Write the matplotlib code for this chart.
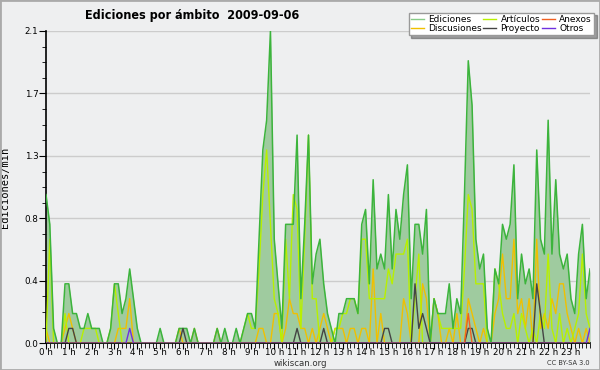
import matplotlib
matplotlib.use("Agg")
import matplotlib.pyplot as plt
from matplotlib.ticker import FixedLocator, MultipleLocator
from matplotlib.lines import Line2D
from matplotlib.patches import Rectangle

# ---- data: edits per minute, 10-minute slots (0h00 .. 23h50) ----
ediciones = [
    1.0, 0.8, 0.1, 0, 0, 0.4, 0.4, 0.2, 0.2, 0.1,
    0.1, 0.2, 0.1, 0.1, 0.1, 0, 0, 0.1, 0.4, 0.4,
    0.2, 0.3, 0.5, 0.3, 0.1, 0, 0, 0, 0, 0,
    0.1, 0, 0, 0, 0, 0.1, 0.1, 0.1, 0, 0.1,
    0, 0, 0, 0, 0, 0.1, 0, 0.1, 0, 0,
    0.1, 0, 0.1, 0.2, 0.2, 0.1, 0.7, 1.3, 1.5, 2.1,
    0.7, 0.4, 0.1, 0.8, 0.8, 0.8, 1.4, 0.3, 0.8, 1.4,
    0.4, 0.6, 0.7, 0.4, 0.2, 0.1, 0, 0.2, 0.2, 0.3,
    0.3, 0.3, 0.2, 0.8, 0.9, 0.4, 1.1, 0.5, 0.6, 0.5,
    1.0, 0.5, 0.9, 0.7, 1.0, 1.2, 0.3, 0.8, 0.8, 0.6,
    0.9, 0, 0.3, 0.2, 0.2, 0.2, 0.4, 0.1, 0.3, 0.2,
    1.0, 1.9, 1.6, 0.7, 0.5, 0.6, 0.1, 0, 0.5, 0.4,
    0.8, 0.7, 0.8, 1.2, 0.3, 0.6, 0.4, 0.5, 0.3, 1.3,
    0.7, 0.6, 1.5, 0.6, 1.1, 0.6, 0.5, 0.6, 0.3, 0.2,
    0.6, 0.8, 0.3, 0.5,
]
articulos = [
    0, 0.7, 0, 0, 0, 0.2, 0, 0, 0, 0,
    0.1, 0.1, 0.1, 0.1, 0, 0, 0, 0.1, 0.4, 0.2,
    0, 0, 0, 0, 0, 0, 0, 0, 0, 0,
    0, 0, 0, 0, 0, 0, 0, 0, 0, 0,
    0, 0, 0, 0, 0, 0, 0, 0, 0, 0,
    0, 0, 0.1, 0.2, 0.1, 0.1, 0.5, 1.0, 1.3, 0.8,
    0.3, 0.2, 0, 0.7, 0.3, 1.0, 0.9, 0.1, 0.7, 1.4,
    0.3, 0.3, 0, 0, 0, 0, 0.1, 0.1, 0.2, 0.2,
    0.3, 0.3, 0.2, 0.7, 0.7, 0.3, 0.3, 0.3, 0.3, 0.3,
    0.5, 0.4, 0.6, 0.6, 0.6, 0.7, 0, 0.3, 0.6, 0,
    0, 0, 0.3, 0.2, 0.1, 0.1, 0.1, 0.1, 0.1, 0.1,
    0.5, 1.0, 0.9, 0.4, 0.4, 0.4, 0, 0, 0.5, 0.4,
    0.2, 0.1, 0.1, 0.2, 0, 0.2, 0.1, 0, 0.1, 0,
    0.2, 0.1, 0.6, 0.1, 0, 0.2, 0, 0.1, 0, 0.1,
    0.2, 0.6, 0.2, 0.1,
]
discusiones = [
    0.1, 0, 0, 0, 0, 0.1, 0.2, 0.1, 0, 0,
    0, 0, 0, 0, 0, 0, 0, 0, 0, 0.1,
    0.1, 0.1, 0.3, 0, 0, 0, 0, 0, 0, 0,
    0, 0, 0, 0, 0, 0.1, 0, 0, 0, 0.1,
    0, 0, 0, 0, 0, 0.1, 0, 0, 0, 0,
    0, 0, 0, 0, 0, 0, 0.1, 0.1, 0, 0,
    0.2, 0.2, 0, 0.1, 0.3, 0.2, 0.2, 0.1, 0.1, 0,
    0.1, 0, 0.1, 0.2, 0.1, 0, 0.1, 0.1, 0.1, 0,
    0.1, 0.1, 0, 0.1, 0.1, 0, 0.5, 0, 0.2, 0,
    0, 0, 0, 0, 0.3, 0.2, 0, 0, 0, 0.4,
    0.3, 0, 0.3, 0.2, 0, 0, 0.1, 0, 0.2, 0,
    0, 0.3, 0.2, 0.1, 0, 0.1, 0, 0, 0.2, 0.3,
    0.6, 0.3, 0.3, 0.7, 0.2, 0.3, 0.1, 0.3, 0, 0.7,
    0.1, 0.2, 0.1, 0.3, 0.2, 0.4, 0.4, 0.2, 0.1, 0,
    0.1, 0, 0.1, 0,
]
proyecto = [0.0] * 144
for i, v in [(6, 0.1), (7, 0.1), (36, 0.1), (66, 0.1), (73, 0.1), (89, 0.1),
             (90, 0.1), (97, 0.4), (98, 0.1), (99, 0.2), (100, 0.1),
             (111, 0.1), (112, 0.1), (129, 0.4), (130, 0.2)]:
    proyecto[i] = v
anexos = [0.0] * 144
anexos[111] = 0.2
otros = [0.0] * 144
otros[22] = 0.1
otros[143] = 0.1

hour_labels = [f"{h} h" for h in range(24)]
y_ticks = [0.0, 0.42, 0.84, 1.26, 1.68, 2.1]
y_labels = ["0.0", "0.4", "0.8", "1.3", "1.7", "2.1"]

# ---- figure ----
BG = "#eeeff0"
fig = plt.figure(figsize=(6.0, 3.7), dpi=100, facecolor=BG)
ax = fig.add_axes([46 / 600, 26.7 / 370, 544 / 600, 312.3 / 370])
ax.set_facecolor(BG)

x = list(range(len(ediciones)))
ax.fill_between(x, ediciones, 0, color="#9fcb9f", lw=0, zorder=1)
ax.plot(x, ediciones, color="#3cb43c", lw=1.1, zorder=5)
ax.plot(x, articulos, color="#b8f000", lw=1.0, zorder=4)
ax.plot(x, discusiones, color="#f0c000", lw=1.0, zorder=3)
ax.plot(x, proyecto, color="#444444", lw=1.0, zorder=6)
ax.plot(x, anexos, color="#f06020", lw=1.0, zorder=6)
ax.plot(x, otros, color="#7030e0", lw=1.0, zorder=6)

ax.set_xlim(0, 143)
ax.set_ylim(0, 2.1)
ax.set_xticks([6 * h for h in range(24)])
ax.set_xticklabels(hour_labels)
ax.xaxis.set_minor_locator(MultipleLocator(1))
ax.yaxis.set_major_locator(FixedLocator(y_ticks))
ax.set_yticklabels(y_labels)
ax.yaxis.set_minor_locator(MultipleLocator(0.105))
ax.grid(axis="y", which="major", color="#cccccc", lw=1)
ax.set_axisbelow(True)
for s in ("top", "right"):
    ax.spines[s].set_visible(False)
for s in ("left", "bottom"):
    ax.spines[s].set_color("black")
    ax.spines[s].set_linewidth(1.2)
ax.tick_params(axis="both", which="both", direction="out", color="black",
               labelsize=6.3, pad=0.5)
ax.tick_params(axis="x", which="major", length=4, pad=-0.5)
ax.tick_params(axis="x", which="minor", length=3.5)
ax.tick_params(axis="y", which="major", length=5)
ax.tick_params(axis="y", which="minor", length=3)

ax.set_ylabel("Ediciones/min", family="DejaVu Sans Mono", fontsize=7.5)
ax.yaxis.set_label_coords((10 - 46) / 544, 0.5)
fig.text(85 / 600, 1 - 16 / 370, "Ediciones por ámbito  2009-09-06",
         fontsize=9, fontweight="bold", fontstretch="condensed",
         va="center", ha="left")
fig.text(300 / 600, 1 - 363 / 370, "wikiscan.org", fontsize=6.2,
         ha="center", va="center", color="#333333")
fig.text(590 / 600, 1 - 363 / 370, "CC BY-SA 3.0", fontsize=4.8,
         ha="right", va="center", color="#333333")

handles = [
    Line2D([], [], color="#88cc88", lw=1),
    Line2D([], [], color="#f0c000", lw=1),
    Line2D([], [], color="#b8f000", lw=1),
    Line2D([], [], color="#444444", lw=1),
    Line2D([], [], color="#f06020", lw=1),
    Line2D([], [], color="#7030e0", lw=1),
]
names = ["Ediciones", "Discusiones", "Artículos", "Proyecto", "Anexos", "Otros"]
leg = fig.legend(handles, names, ncol=3, loc="upper right",
                 bbox_to_anchor=(594 / 600, 1 - 12.5 / 370), fontsize=6.5,
                 frameon=True, fancybox=False, shadow=True,
                 handlelength=1.45, handletextpad=0.45, columnspacing=0.2,
                 labelspacing=0.05, borderpad=0.25, borderaxespad=0)
leg.get_frame().set_edgecolor("#999999")
leg.get_frame().set_facecolor("white")

fig.patches.append(Rectangle((0, 0), 1, 1, transform=fig.transFigure,
                             fill=False, edgecolor="#aaaaaa", lw=2))
fig.savefig("out.png", dpi=100, facecolor=BG)
